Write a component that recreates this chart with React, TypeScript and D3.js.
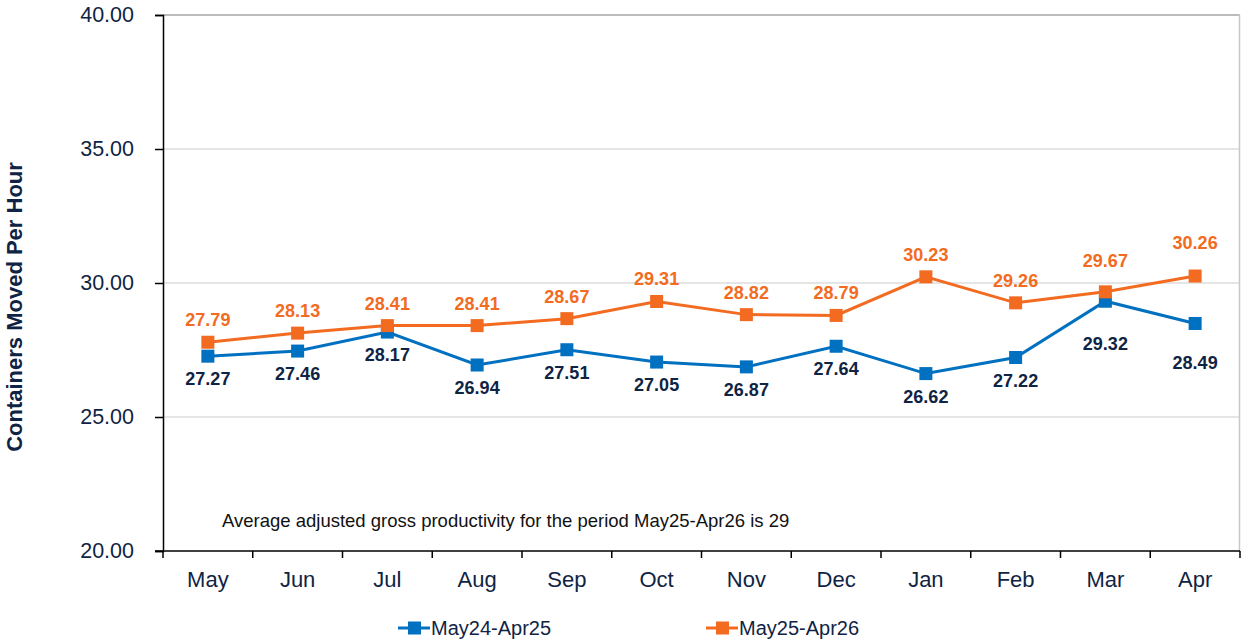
import React, { useEffect, useRef } from "react";
import * as d3 from "d3";

const months = ["May", "Jun", "Jul", "Aug", "Sep", "Oct", "Nov", "Dec", "Jan", "Feb", "Mar", "Apr"];
const prevYear = [27.27, 27.46, 28.17, 26.94, 27.51, 27.05, 26.87, 27.64, 26.62, 27.22, 29.32, 28.49];
const currYear = [27.79, 28.13, 28.41, 28.41, 28.67, 29.31, 28.82, 28.79, 30.23, 29.26, 29.67, 30.26];
const yTicks = [20, 25, 30, 35, 40];
const seriesNames = ["May24-Apr25", "May25-Apr26"];
const note = "Average adjusted gross productivity for the period May25-Apr26 is 29";

// extra label push (px) where labels were moved apart to avoid overlap
const prevLabelNudge = [0, 0, 0, 0, 0, 0, 0, 0, 0, 0, 20, 17];
const currLabelNudge = [0, 0, 0, 0, 0, 0, 0, 0, 0, 0, -9, -11];

const BLUE = "#0070c0";
const ORANGE = "#f26b21";
const NAVY = "#0f2444";
const FONT = "'Liberation Sans', Arial, sans-serif";

export default function App() {
	const ref = useRef<SVGSVGElement>(null);

	useEffect(() => {
		const W = 1241;
		const H = 643;
		const margin = { top: 15, right: 1, left: 163, bottom: 92 };
		const width = W - margin.left - margin.right;
		const height = H - margin.top - margin.bottom;

		const svgRoot = d3.select(ref.current);
		svgRoot.selectAll("*").remove();

		const svg = svgRoot
			.append("g")
			.attr("transform", `translate(${margin.left},${margin.top})`);

		const x = d3.scaleBand().domain(months).range([0, width]).padding(0);
		const y = d3.scaleLinear().domain([20, 40]).range([height, 0]);
		const cx = (m: string) => (x(m) as number) + x.bandwidth() / 2;

		// gridlines
		svg.append("g")
			.selectAll("line")
			.data(yTicks.filter((t) => t > 20))
			.join("line")
			.attr("x1", 0)
			.attr("x2", width)
			.attr("y1", (d) => y(d))
			.attr("y2", (d) => y(d))
			.attr("stroke", (d) => (d === 40 ? "#a6a6a6" : "#dcdcdc"))
			.attr("stroke-width", 1.5);

		// right border
		svg.append("line")
			.attr("x1", width - 0.5)
			.attr("x2", width - 0.5)
			.attr("y1", 0)
			.attr("y2", height)
			.attr("stroke", "#c8c8c8")
			.attr("stroke-width", 1.5);

		// y axis
		const yAxis = svg.append("g").call(
			d3.axisLeft(y).tickValues(yTicks).tickSize(8).tickFormat((d) => d3.format(".2f")(d as number))
		);
		yAxis.select(".domain").attr("stroke", "#000").attr("stroke-width", 1.5);
		yAxis.selectAll(".tick line").attr("stroke", "#000").attr("stroke-width", 1.5);
		yAxis.selectAll(".tick text")
			.attr("x", -29)
			.attr("font-size", 21.5)
			.attr("font-family", FONT)
			.attr("fill", NAVY);

		// x axis with ticks at band edges
		const xg = svg.append("g").attr("transform", `translate(0,${height})`);
		xg.append("line")
			.attr("x1", -8)
			.attr("x2", width)
			.attr("stroke", "#000")
			.attr("stroke-width", 1.5);
		xg.selectAll("line.tk")
			.data(months.concat(["end"]))
			.join("line")
			.attr("class", "tk")
			.attr("x1", (d, i) => (i < months.length ? (x(d) as number) : width))
			.attr("x2", (d, i) => (i < months.length ? (x(d) as number) : width))
			.attr("y1", 0)
			.attr("y2", 7)
			.attr("stroke", "#000")
			.attr("stroke-width", 1.5);
		xg.selectAll("text")
			.data(months)
			.join("text")
			.attr("x", (d) => cx(d))
			.attr("y", 36)
			.attr("text-anchor", "middle")
			.attr("font-size", 22)
			.attr("font-family", FONT)
			.attr("fill", NAVY)
			.text((d) => d);

		// y title
		svgRoot.append("text")
			.attr("transform", "translate(22,307) rotate(-90)")
			.attr("text-anchor", "middle")
			.attr("font-size", 22)
			.attr("font-weight", "bold")
			.attr("font-family", FONT)
			.attr("fill", NAVY)
			.text("Containers Moved Per Hour");

		// note
		svg.append("text")
			.attr("x", 59)
			.attr("y", 512)
			.attr("font-size", 18.5)
			.attr("font-family", FONT)
			.attr("fill", "#111")
			.text(note);

		const line = d3
			.line<number>()
			.x((_, i) => cx(months[i]))
			.y((d) => y(d));

		const series = [
			{ values: prevYear, color: BLUE, labelColor: NAVY, dy: 29, nudge: prevLabelNudge },
			{ values: currYear, color: ORANGE, labelColor: ORANGE, dy: -16, nudge: currLabelNudge },
		];

		series.forEach((s) => {
			svg.append("path")
				.datum(s.values)
				.attr("d", line)
				.attr("fill", "none")
				.attr("stroke", s.color)
				.attr("stroke-width", 3);
		});

		series.forEach((s) => {
			svg.append("g")
				.selectAll("rect")
				.data(s.values)
				.join("rect")
				.attr("x", (_, i) => cx(months[i]) - 6.5)
				.attr("y", (d) => y(d) - 6.5)
				.attr("width", 13)
				.attr("height", 13)
				.attr("fill", s.color);
		});

		series.forEach((s) => {
			svg.append("g")
				.selectAll("text")
				.data(s.values)
				.join("text")
				.attr("x", (_, i) => cx(months[i]))
				.attr("y", (d, i) => y(d) + s.dy + s.nudge[i])
				.attr("text-anchor", "middle")
				.attr("font-size", 18)
				.attr("font-weight", "bold")
				.attr("font-family", FONT)
				.attr("fill", s.labelColor)
				.text((d) => d3.format(".2f")(d));
		});

		// legend
		const legend = svgRoot.append("g").attr("transform", "translate(0,628)");
		const legendX = [398, 706];
		seriesNames.forEach((name, i) => {
			const c = i === 0 ? BLUE : ORANGE;
			const g = legend.append("g").attr("transform", `translate(${legendX[i]},0)`);
			g.append("line").attr("x1", 0).attr("x2", 32).attr("stroke", c).attr("stroke-width", 3);
			g.append("rect").attr("x", 10).attr("y", -6.5).attr("width", 13).attr("height", 13).attr("fill", c);
			g.append("text")
				.attr("x", 33)
				.attr("y", 7)
				.attr("font-size", 20)
				.attr("font-family", FONT)
				.attr("fill", NAVY)
				.text(name);
		});
	}, []);

	return (
		<svg
			ref={ref}
			width={1241}
			height={643}
			style={{ position: "absolute", left: 0, top: 0, background: "#fff" }}
		/>
	);
}
